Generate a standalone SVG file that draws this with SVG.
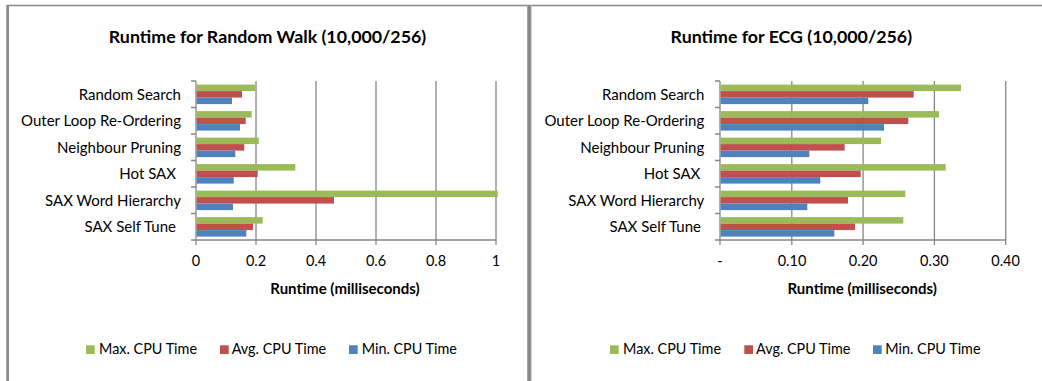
<svg xmlns="http://www.w3.org/2000/svg" width="1042" height="381" viewBox="0 0 1042 381">
<style>
.t{font-family:Lato,"Liberation Sans",sans-serif;fill:#000}
.title{font-size:17.8px;font-weight:bold;text-anchor:middle}
.cat{font-size:15px;text-anchor:end}
.tick{font-size:14.5px;text-anchor:middle}
.axt{font-size:15px;font-weight:bold;text-anchor:middle}
.leg{font-size:14.4px}
.grid{stroke:#878787;stroke-width:1.3;fill:none}
.g{fill:#9BBB59}
.r{fill:#C0504D}
.b{fill:#4F81BD}
</style>
<rect x="0" y="0" width="1042" height="381" fill="#fff"/>
<g id="frame">
<line x1="7" y1="5.5" x2="1042" y2="5.5" stroke="#888" stroke-width="1.3"/>
<rect x="6" y="5" width="3" height="376" fill="#a6a6a6"/>
<rect x="7" y="5" width="2" height="376" fill="#8a8a8a"/>
<rect x="527" y="5" width="4.5" height="376" fill="#a6a6a6"/>
<rect x="528.3" y="5" width="2" height="376" fill="#808080"/>
</g>
<g id="chart-random-walk">
<text class="t title" x="267.5" y="43">Runtime for Random Walk (10,000/256)</text>
<g id="rw-grid">
<path class="grid" d="M256,81V245M316,81V245M376,81V245M436,81V245M496,81V245"/>
<path class="grid" d="M196,81V245M191,240H496M191,81H196M191,107.5H196M191,134H196M191,160.5H196M191,187H196M191,213.5H196"/>
</g>
<g id="rw-bars">
<rect class="g" x="196.6" y="84.6" width="58.4" height="6.5"/>
<rect class="r" x="196.6" y="91.1" width="45.4" height="6.5"/>
<rect class="b" x="196.6" y="97.6" width="35.4" height="6.5"/>
<rect class="g" x="196.6" y="111.1" width="55.1" height="6.5"/>
<rect class="r" x="196.6" y="117.6" width="49.1" height="6.5"/>
<rect class="b" x="196.6" y="124.1" width="43.4" height="6.5"/>
<rect class="g" x="196.6" y="137.6" width="62.1" height="6.5"/>
<rect class="r" x="196.6" y="144.1" width="47.7" height="6.5"/>
<rect class="b" x="196.6" y="150.6" width="38.7" height="6.5"/>
<rect class="g" x="196.6" y="164.1" width="98.7" height="6.5"/>
<rect class="r" x="196.6" y="170.6" width="61.1" height="6.5"/>
<rect class="b" x="196.6" y="177.1" width="37.1" height="6.5"/>
<rect class="g" x="196.6" y="190.6" width="301.1" height="6.5"/>
<rect class="r" x="196.6" y="197.1" width="137.4" height="6.5"/>
<rect class="b" x="196.6" y="203.6" width="36.4" height="6.5"/>
<rect class="g" x="196.6" y="217.1" width="66.1" height="6.5"/>
<rect class="r" x="196.6" y="223.6" width="56.4" height="6.5"/>
<rect class="b" x="196.6" y="230.1" width="49.7" height="6.5"/>
</g>
<g id="rw-labels">
<text class="t cat" x="181" y="99.5">Random Search</text>
<text class="t cat" x="181" y="126">Outer Loop Re-Ordering</text>
<text class="t cat" x="181" y="152.5">Neighbour Pruning</text>
<text class="t cat" x="176" y="179">Hot SAX</text>
<text class="t cat" x="181" y="205.5">SAX Word Hierarchy</text>
<text class="t cat" x="176" y="232">SAX Self Tune</text>
<text class="t tick" x="196" y="266">0</text>
<text class="t tick" x="256" y="266">0.2</text>
<text class="t tick" x="316" y="266">0.4</text>
<text class="t tick" x="376" y="266">0.6</text>
<text class="t tick" x="436" y="266">0.8</text>
<text class="t tick" x="496" y="266">1</text>
<text class="t axt" x="345" y="293.5">Runtime (milliseconds)</text>
</g>
<g id="rw-legend">
<rect class="g" x="86" y="345.3" width="8.7" height="8.7"/>
<text class="t leg" x="99" y="354">Max. CPU Time</text>
<rect class="r" x="220" y="345.3" width="8.7" height="8.7"/>
<text class="t leg" x="231.7" y="354">Avg. CPU Time</text>
<rect class="b" x="349" y="345.3" width="8.7" height="8.7"/>
<text class="t leg" x="361.7" y="354">Min. CPU Time</text>
</g>
</g>
<g id="chart-ecg">
<text class="t title" x="791.3" y="43">Runtime for ECG (10,000/256)</text>
<g id="ecg-grid">
<path class="grid" d="M791.8,81V245M863.1,81V245M934.4,81V245M1005.7,81V245"/>
<path class="grid" d="M720,81V245M715,240H1005.7M715,81H720M715,107.5H720M715,134H720M715,160.5H720M715,187H720M715,213.5H720"/>
</g>
<g id="ecg-bars">
<rect class="g" x="720.6" y="84.6" width="240.4" height="6.5"/>
<rect class="r" x="720.6" y="91.1" width="193.1" height="6.5"/>
<rect class="b" x="720.6" y="97.6" width="147.7" height="6.5"/>
<rect class="g" x="720.6" y="111.1" width="218.4" height="6.5"/>
<rect class="r" x="720.6" y="117.6" width="187.7" height="6.5"/>
<rect class="b" x="720.6" y="124.1" width="163.4" height="6.5"/>
<rect class="g" x="720.6" y="137.6" width="160.4" height="6.5"/>
<rect class="r" x="720.6" y="144.1" width="124.1" height="6.5"/>
<rect class="b" x="720.6" y="150.6" width="88.7" height="6.5"/>
<rect class="g" x="720.6" y="164.1" width="225.1" height="6.5"/>
<rect class="r" x="720.6" y="170.6" width="140.1" height="6.5"/>
<rect class="b" x="720.6" y="177.1" width="99.7" height="6.5"/>
<rect class="g" x="720.6" y="190.6" width="184.7" height="6.5"/>
<rect class="r" x="720.6" y="197.1" width="127.4" height="6.5"/>
<rect class="b" x="720.6" y="203.6" width="86.7" height="6.5"/>
<rect class="g" x="720.6" y="217.1" width="182.7" height="6.5"/>
<rect class="r" x="720.6" y="223.6" width="134.4" height="6.5"/>
<rect class="b" x="720.6" y="230.1" width="113.7" height="6.5"/>
</g>
<g id="ecg-labels">
<text class="t cat" x="704.3" y="99.5">Random Search</text>
<text class="t cat" x="704.3" y="126">Outer Loop Re-Ordering</text>
<text class="t cat" x="704.3" y="152.5">Neighbour Pruning</text>
<text class="t cat" x="700.3" y="179">Hot SAX</text>
<text class="t cat" x="704.3" y="205.5">SAX Word Hierarchy</text>
<text class="t cat" x="701" y="232">SAX Self Tune</text>
<text class="t tick" x="720" y="266">-</text>
<text class="t tick" x="792" y="266">0.10</text>
<text class="t tick" x="863.2" y="266">0.20</text>
<text class="t tick" x="934.4" y="266">0.30</text>
<text class="t tick" x="1005.6" y="266">0.40</text>
<text class="t axt" x="862.2" y="293.5">Runtime (milliseconds)</text>
</g>
<g id="ecg-legend">
<rect class="g" x="610" y="345.3" width="8.7" height="8.7"/>
<text class="t leg" x="623" y="354">Max. CPU Time</text>
<rect class="r" x="744.3" y="345.3" width="8.7" height="8.7"/>
<text class="t leg" x="756" y="354">Avg. CPU Time</text>
<rect class="b" x="873" y="345.3" width="8.7" height="8.7"/>
<text class="t leg" x="885.3" y="354">Min. CPU Time</text>
</g>
</g>
</svg>
